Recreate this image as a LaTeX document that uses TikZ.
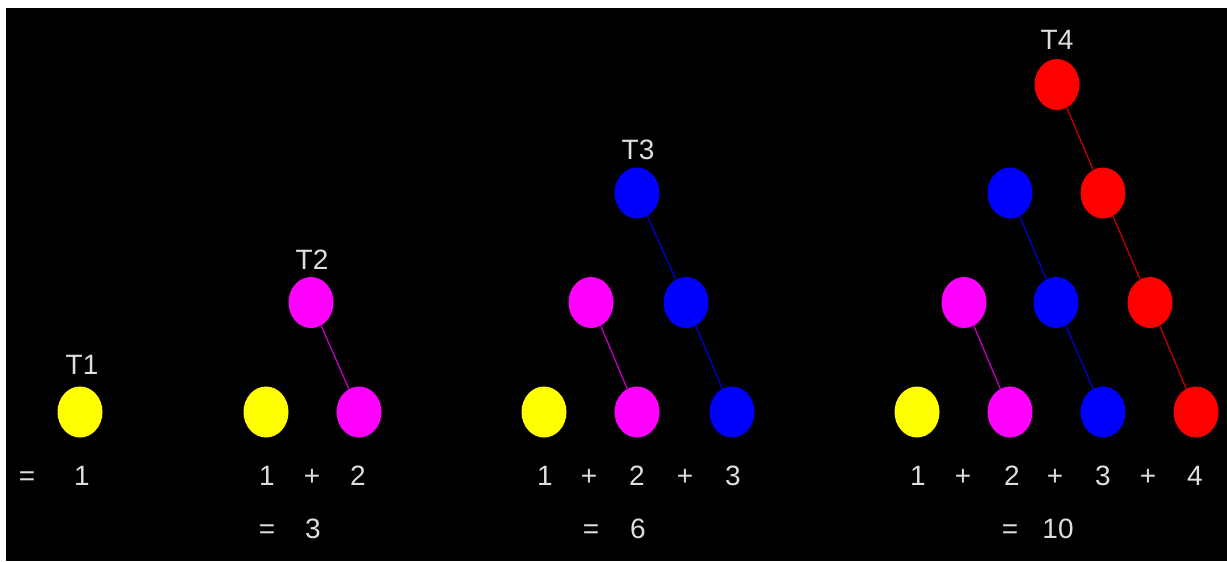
\documentclass[tikz,border=0pt]{standalone}
\usepackage{fontspec}
\setmainfont{Liberation Sans}
\usetikzlibrary{shapes.geometric}
\definecolor{cyel}{RGB}{255,255,0}
\definecolor{cmag}{RGB}{255,0,255}
\definecolor{cblu}{RGB}{0,0,255}
\definecolor{cred}{RGB}{255,0,0}
\definecolor{cmagline}{RGB}{190,0,190}
\definecolor{cbluline}{RGB}{0,0,200}
\definecolor{credline}{RGB}{190,0,0}
\definecolor{ctxt}{RGB}{222,222,222}
\begin{document}
\begin{tikzpicture}[x=0.75pt,y=-0.75pt,
  ball/.style={ellipse,inner sep=0pt,minimum width=33.75pt,minimum height=38.25pt,draw=none},
  yb/.style={ball,fill=cyel},
  mb/.style={ball,fill=cmag},
  bb/.style={ball,fill=cblu},
  rb/.style={ball,fill=cred},
  lbl/.style={text=ctxt,font=\fontsize{21}{21}\selectfont,anchor=base,inner sep=0pt},
  mline/.style={draw=cmagline,line width=1pt},
  bline/.style={draw=cbluline,line width=1pt},
  rline/.style={draw=credline,line width=1pt}]
\useasboundingbox (0,0) rectangle (1227,561);
\fill[white] (0,0) rectangle (1227,561);
\fill[black] (6,8) rectangle (1227,561);
% T1
\node[lbl] (l1) at (82,374) {T1};
\node[yb] (a1) at (80,412) {};
\node[lbl] (a1e) at (27,485) {=};
\node[lbl] (a1n) at (82,485) {1};
% T2
\node[lbl] (l2) at (312,269) {T2};
\node[mb] (b1) at (311,302.5) {};
\node[yb] (b2) at (266,412) {};
\node[mb] (b3) at (359,412) {};
\draw[mline] (b1) -- (b3);
\node[lbl] (b2n) at (267,485) {1};
\node[lbl] (b2p) at (312,485) {+};
\node[lbl] (b3n) at (358,485) {2};
\node[lbl] (bse) at (267,538) {=};
\node[lbl] (bs) at (313,538) {3};
% T3
\node[lbl] (l3) at (638,159) {T3};
\node[bb] (c1) at (637,193) {};
\node[mb] (c2) at (591,302.5) {};
\node[bb] (c3) at (686,302.5) {};
\node[yb] (c4) at (544,412) {};
\node[mb] (c5) at (637,412) {};
\node[bb] (c6) at (732,412) {};
\draw[bline] (c1) -- (c3);
\draw[bline] (c3) -- (c6);
\draw[mline] (c2) -- (c5);
\node[lbl] (c4n) at (545,485) {1};
\node[lbl] (cp1) at (589,485) {+};
\node[lbl] (c5n) at (637,485) {2};
\node[lbl] (cp2) at (685,485) {+};
\node[lbl] (c6n) at (733,485) {3};
\node[lbl] (cse) at (591,538) {=};
\node[lbl] (cs) at (638,538) {6};
% T4
\node[lbl] (l4) at (1057,49) {T4};
\node[rb] (d1) at (1057,84.5) {};
\node[bb] (d2) at (1010,193) {};
\node[rb] (d3) at (1103,193) {};
\node[mb] (d4) at (964,302.5) {};
\node[bb] (d5) at (1056,302.5) {};
\node[rb] (d6) at (1150,302.5) {};
\node[yb] (d7) at (917,412) {};
\node[mb] (d8) at (1010,412) {};
\node[bb] (d9) at (1103,412) {};
\node[rb] (d10) at (1196,412) {};
\draw[rline] (d1) -- (d3);
\draw[rline] (d3) -- (d6);
\draw[rline] (d6) -- (d10);
\draw[bline] (d2) -- (d5);
\draw[bline] (d5) -- (d9);
\draw[mline] (d4) -- (d8);
\node[lbl] (d7n) at (918,485) {1};
\node[lbl] (dp1) at (963,485) {+};
\node[lbl] (d8n) at (1012,485) {2};
\node[lbl] (dp2) at (1055,485) {+};
\node[lbl] (d9n) at (1103,485) {3};
\node[lbl] (dp3) at (1148,485) {+};
\node[lbl] (d10n) at (1195,485) {4};
\node[lbl] (dse) at (1010,538) {=};
\node[lbl] (ds) at (1058,538) {10};
\end{tikzpicture}
\end{document}
